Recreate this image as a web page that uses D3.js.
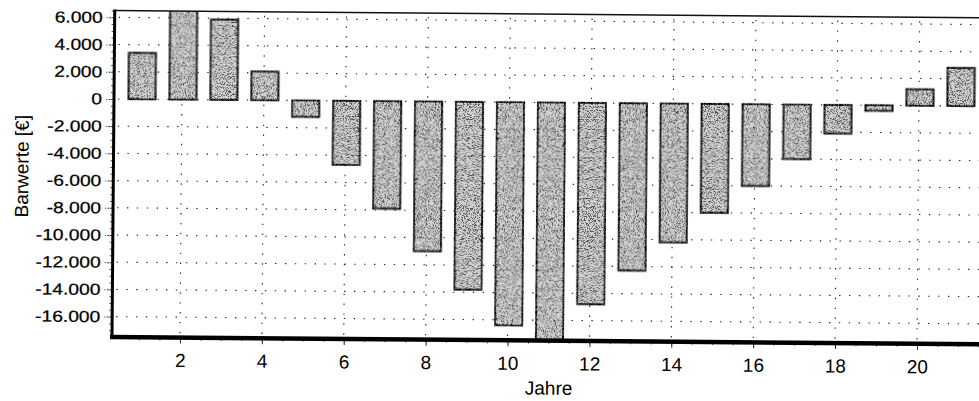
<!DOCTYPE html>
<html>
<head>
<meta charset="utf-8">
<script src="https://cdn.jsdelivr.net/npm/d3@7"></script>
<style>
  html, body { margin: 0; padding: 0; background: #fff; }
  svg { display: block; font-family: "Liberation Sans", Arial, sans-serif; }
</style>
</head>
<body>
<svg id="chart" width="979" height="401"></svg>
<script>
// Barwerte je Jahr (€)
const years    = [1, 2, 3, 4, 5, 6, 7, 8, 9, 10, 11, 12, 13, 14, 15, 16, 17, 18, 19, 20, 21];
const barwerte = [3400, 6800, 5900, 2100, -1200, -4700, -7900, -11000, -13800, -16400, -17700,
                  -14800, -12300, -10200, -8000, -6000, -4000, -2100, -400, 1200, 2800];

const yTicks = [6000, 4000, 2000, 0, -2000, -4000, -6000, -8000, -10000, -12000, -14000, -16000];
const xTicks = [2, 4, 6, 8, 10, 12, 14, 16, 18, 20];
const yTitle = "Barwerte [€]";
const xTitle = "Jahre";

const W = 979, H = 401;
const plotLeft = 112, plotTop = 10.5, plotBottom = 337, plotRight = 1000;

const svg = d3.select("#chart");

// German number format: 16.000, -2.000
const de = d3.formatLocale({ decimal: ",", thousands: ".", grouping: [3], currency: ["", " €"], minus: "-" });
const fmt = de.format(",d");

const x = d3.scaleLinear().domain([0.34, 22]).range([plotLeft, 98.11 + 22 * 40.944]);
const y = d3.scaleLinear().domain([6500, -17500]).range([plotTop, plotBottom]);

const defs = svg.append("defs");
defs.append("clipPath").attr("id", "plotClip")
  .append("rect")
  .attr("x", plotLeft).attr("y", plotTop)
  .attr("width", plotRight - plotLeft).attr("height", plotBottom - plotTop);

// stippled grain for the bar fill
const grain = defs.append("filter").attr("id", "grain")
  .attr("filterUnits", "userSpaceOnUse")
  .attr("x", 0).attr("y", 0).attr("width", 1100).attr("height", H);
grain.append("feTurbulence")
  .attr("type", "fractalNoise").attr("baseFrequency", 0.9)
  .attr("numOctaves", 2).attr("seed", 7).attr("result", "noise");
grain.append("feColorMatrix").attr("in", "noise").attr("type", "matrix")
  .attr("values", "0 0 0 0 0.08  0 0 0 0 0.08  0 0 0 0 0.08  14 0 0 0 -7.2")
  .attr("result", "specks");
grain.append("feComposite").attr("in", "specks").attr("in2", "SourceAlpha")
  .attr("operator", "in").attr("result", "clipped");
const merge = grain.append("feMerge");
merge.append("feMergeNode").attr("in", "SourceGraphic");
merge.append("feMergeNode").attr("in", "clipped");

// whole drawing sits slightly tilted
const root = svg.append("g").attr("transform", `rotate(0.48 ${plotLeft} ${plotBottom})`);

// dotted grid
const grid = root.append("g").attr("class", "grid")
  .attr("stroke", "#222").attr("stroke-width", 1.1).attr("stroke-dasharray", "1.4 8.5");
grid.selectAll("line.h").data(yTicks).join("line").attr("class", "h")
  .attr("x1", plotLeft + 4).attr("x2", plotRight)
  .attr("y1", d => y(d)).attr("y2", d => y(d));
grid.selectAll("line.v").data(xTicks).join("line").attr("class", "v")
  .attr("x1", d => x(d)).attr("x2", d => x(d))
  .attr("y1", plotTop + 4).attr("y2", plotBottom);

// bars
const barW = 27;
root.append("g").attr("clip-path", "url(#plotClip)")
  .append("g").attr("filter", "url(#grain)")
  .selectAll("rect").data(years.map((yr, i) => ({ yr, v: barwerte[i] }))).join("rect")
  .attr("x", d => x(d.yr) - barW / 2 + 1)
  .attr("width", barW)
  .attr("y", d => y(Math.max(0, d.v)))
  .attr("height", d => Math.abs(y(d.v) - y(0)))
  .attr("fill", "#d2d2d2")
  .attr("stroke", "#000")
  .attr("stroke-width", 2);

// top frame line
root.append("line")
  .attr("x1", plotLeft).attr("x2", plotRight)
  .attr("y1", plotTop).attr("y2", plotTop)
  .attr("stroke", "#111").attr("stroke-width", 1.6);

// y axis
const yAxis = root.append("g").attr("transform", `translate(${plotLeft},0)`)
  .call(d3.axisLeft(y).tickValues(yTicks).tickFormat(fmt).tickSize(8).tickPadding(3));
yAxis.select(".domain").remove();
yAxis.selectAll(".tick line").attr("stroke", "#333").attr("stroke-dasharray", "2 1.5");
yAxis.selectAll(".tick text")
  .attr("x", -10)
  .attr("transform", "scale(1.2,1)")
  .attr("fill", "#000")
  .attr("stroke", "#000").attr("stroke-width", 0.25)
  .style("font-size", "16px");

// minor y ticks
const yMinor = root.append("g").attr("transform", `translate(${plotLeft},0)`)
  .call(d3.axisLeft(y).tickValues(d3.range(-17000, 6501, 500)).tickFormat("").tickSize(3));
yMinor.select(".domain").remove();
yMinor.selectAll(".tick line").attr("stroke", "#555");

// x axis
const xAxis = root.append("g").attr("transform", `translate(0,${plotBottom})`)
  .call(d3.axisBottom(x).tickValues(xTicks).tickFormat(d3.format("d")).tickSize(6).tickPadding(10));
xAxis.select(".domain").remove();
xAxis.selectAll(".tick line").attr("stroke", "#222");
xAxis.selectAll(".tick text").attr("fill", "#000").style("font-size", "19px");

const xMinor = root.append("g").attr("transform", `translate(0,${plotBottom})`)
  .call(d3.axisBottom(x).tickValues(d3.range(1, 22, 0.5)).tickFormat("").tickSize(3));
xMinor.select(".domain").remove();
xMinor.selectAll(".tick line").attr("stroke", "#444");

// thick axis lines
root.append("line")
  .attr("x1", plotLeft).attr("x2", plotLeft)
  .attr("y1", plotTop - 1).attr("y2", plotBottom + 2)
  .attr("stroke", "#000").attr("stroke-width", 3);
root.append("line")
  .attr("x1", plotLeft - 2).attr("x2", plotRight)
  .attr("y1", plotBottom).attr("y2", plotBottom)
  .attr("stroke", "#000").attr("stroke-width", 4.5);

// axis titles
root.append("text")
  .attr("x", 549).attr("y", 391)
  .attr("text-anchor", "middle")
  .style("font-size", "19px")
  .text(xTitle);
root.append("text")
  .attr("transform", "translate(27,167) rotate(-90)")
  .attr("text-anchor", "middle")
  .style("font-size", "19px")
  .text(yTitle);
</script>
</body>
</html>
